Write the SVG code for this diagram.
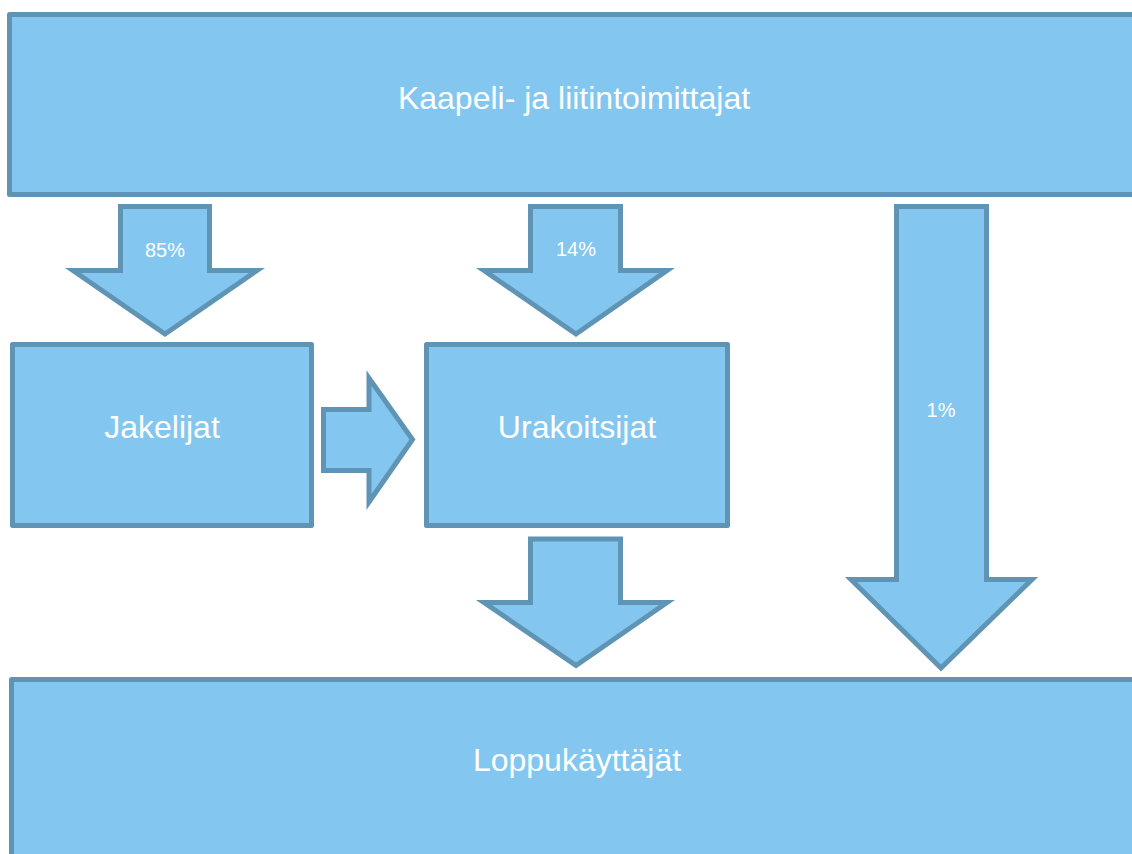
<svg xmlns="http://www.w3.org/2000/svg" width="1132" height="854" viewBox="0 0 1132 854">
<style>
.box{fill:#83C7F0;stroke:#6094B5;stroke-width:5;stroke-linejoin:round}
.arr{fill:#83C7F0;stroke:#6094B5;stroke-width:5;stroke-linejoin:miter;stroke-miterlimit:10}
.big{fill:#FFFFFF;font-family:"Liberation Sans",Arial,sans-serif;font-size:32px;text-anchor:middle}
.pct{fill:#FFFFFF;font-family:"Liberation Sans",Arial,sans-serif;font-size:20px;text-anchor:middle}
</style>
<rect width="1132" height="854" fill="#FFFFFF"/>
<g id="kaapeli">
<rect class="box" x="9.5" y="14.5" width="1140" height="180"/>
<text class="big" x="574" y="109">Kaapeli- ja liitintoimittajat</text>
</g>
<g id="jakelijat">
<rect class="box" x="12.5" y="344.5" width="299" height="181"/>
<text class="big" x="162" y="438">Jakelijat</text>
</g>
<g id="urakoitsijat">
<rect class="box" x="426.5" y="344.5" width="301" height="181"/>
<text class="big" x="577" y="438">Urakoitsijat</text>
</g>
<g id="loppukayttajat">
<rect class="box" x="11.5" y="679.5" width="1140" height="200"/>
<text class="big" x="577" y="771">Loppukäyttäjät</text>
</g>
<g id="connectors">
<g id="arrow85">
<polygon class="arr" points="120.5,206.5 209.5,206.5 209.5,270.5 257,270.5 165,334 73,270.5 120.5,270.5"/>
<text class="pct" x="165" y="257">85%</text>
</g>
<g id="arrow14">
<polygon class="arr" points="530.5,206.5 620.5,206.5 620.5,270.5 667,270.5 576,334 484,270.5 530.5,270.5"/>
<text class="pct" x="576" y="256">14%</text>
</g>
<g id="arrow1">
<polygon class="arr" points="896.5,206.5 986.5,206.5 986.5,579.5 1032,579.5 941,668 851,579.5 896.5,579.5"/>
<text class="pct" x="941" y="417">1%</text>
</g>
<g id="arrowJU">
<polygon class="arr" points="323.5,409.5 369,409.5 369,378 412.5,439.5 369,502 369,470.5 323.5,470.5"/>
</g>
<g id="arrowUL">
<polygon class="arr" points="530.5,539 620.5,539 620.5,602.5 667,602.5 576,665.5 484,602.5 530.5,602.5"/>
</g>
</g>
</svg>
